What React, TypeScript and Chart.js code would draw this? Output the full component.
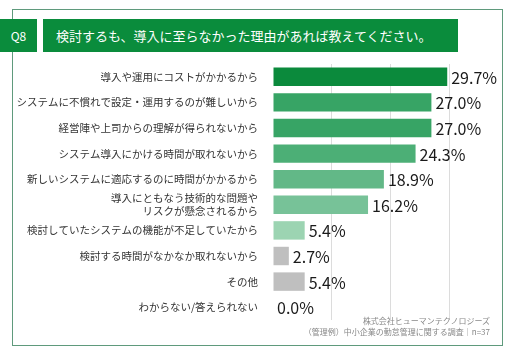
import React, { useEffect, useRef } from "react";
import { Chart, registerables } from "chart.js";

Chart.register(...registerables);

const categories: (string | string[])[] = [
  "導入や運用にコストがかかるから",
  "システムに不慣れで設定・運用するのが難しいから",
  "経営陣や上司からの理解が得られないから",
  "システム導入にかける時間が取れないから",
  "新しいシステムに適応するのに時間がかかるから",
  ["導入にともなう技術的な問題や", "リスクが懸念されるから"],
  "検討していたシステムの機能が不足していたから",
  "検討する時間がなかなか取れないから",
  "その他",
  "わからない/答えられない",
];
const values = [29.7, 27.0, 27.0, 24.3, 18.9, 16.2, 5.4, 2.7, 5.4, 0.0];
const barColors = [
  "#0b8a3c",
  "#37a465",
  "#37a465",
  "#4caf76",
  "#62b887",
  "#77c298",
  "#9cd4b2",
  "#bfbfbf",
  "#bfbfbf",
  "#bfbfbf",
];
const titleText = "検討するも、導入に至らなかった理由があれば教えてください。";
const qLabel = "Q8";
const sourceLines = ["株式会社ヒューマンテクノロジーズ", "（管理例）中小企業の勤怠管理に関する調査｜n=37"];

const FONT = "'Noto Sans CJK JP', 'Noto Sans', sans-serif";

export default function App() {
  const ref = useRef<HTMLCanvasElement | null>(null);
  useEffect(() => {
    if (!ref.current) return;
    const valueLabels = {
      id: "valueLabels",
      afterDatasetsDraw(chart: any) {
        const ctx = chart.ctx;
        const meta = chart.getDatasetMeta(0);
        ctx.save();
        ctx.font = `16px ${FONT}`;
        ctx.fillStyle = "#1a1a1a";
        ctx.textBaseline = "middle";
        ctx.textAlign = "left";
        meta.data.forEach((bar: any, i: number) => {
          ctx.fillText(values[i].toFixed(1) + "%", bar.x + 4, bar.y + 1);
        });
        ctx.restore();
      },
    };
    const chart = new Chart(ref.current, {
      type: "bar",
      data: {
        labels: categories,
        datasets: [
          {
            data: values,
            backgroundColor: barColors,
            borderWidth: 0,
            barPercentage: 0.72,
            categoryPercentage: 1,
          },
        ],
      },
      options: {
        indexAxis: "y",
        animation: false,
        responsive: false,
        maintainAspectRatio: false,
        layout: { padding: { top: 64, bottom: 35, left: 0, right: 63 } },
        plugins: {
          legend: { display: false },
          tooltip: { enabled: false },
        },
        scales: {
          x: {
            min: 0,
            max: 30,
            ticks: { display: false, stepSize: 10 },
            grid: {
              color: (c: any) => (c.tick && c.tick.value === 0 ? "rgba(0,0,0,0)" : "#dcdcdc"),
              drawTicks: false,
            },
            border: { display: false },
          },
          y: {
            afterFit: (scale: any) => {
              scale.width = 273;
            },
            ticks: {
              color: "#333",
              font: { family: FONT, size: 10.5 },
              padding: 15,
              autoSkip: false,
            },
            grid: { display: false, drawTicks: false },
            border: { display: false },
          },
        },
      },
      plugins: [valueLabels],
    });
    return () => chart.destroy();
  }, []);

  return (
    <div style={{ position: "absolute", left: 0, top: 0, width: 512, height: 355, background: "#fff", overflow: "hidden", fontFamily: FONT }}>
      <div style={{ position: "absolute", left: 12, top: 9, width: 491, height: 337, border: "1px solid #5f9a7c", boxSizing: "border-box" }} />
      <canvas ref={ref} width={512} height={355} style={{ position: "absolute", left: 0, top: 0, width: 512, height: 355 }} />
      <div style={{ position: "absolute", left: 0, top: 19, width: 37, height: 33, background: "#0a8c3c", color: "#fff", fontSize: 12, lineHeight: "33px", textAlign: "center" }}>{qLabel}</div>
      <div style={{ position: "absolute", left: 43, top: 19, width: 415, height: 33, background: "#0a8c3c", color: "#fff", fontSize: 13, lineHeight: "33px", paddingLeft: 13, boxSizing: "border-box", whiteSpace: "nowrap" }}>{titleText}</div>
      <div style={{ position: "absolute", right: 22, top: 315, color: "#888", fontSize: 8, lineHeight: "11px", textAlign: "right", whiteSpace: "nowrap" }}>
        <div>{sourceLines[0]}</div>
        <div>{sourceLines[1]}</div>
      </div>
    </div>
  );
}
